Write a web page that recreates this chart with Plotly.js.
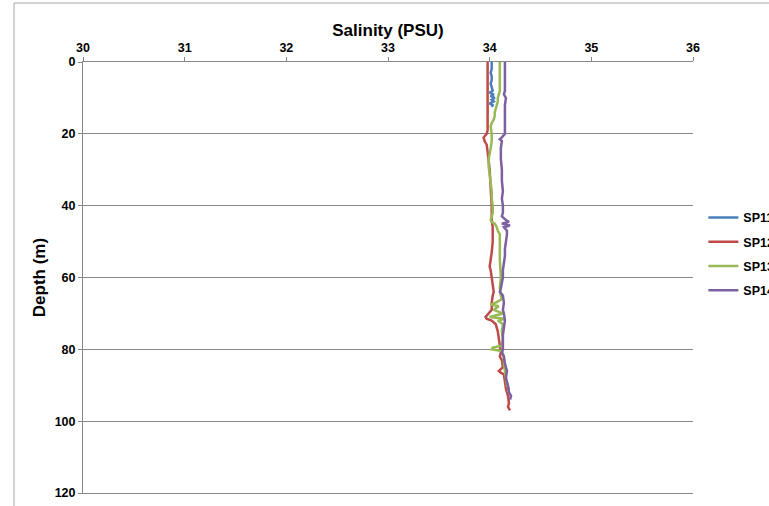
<!DOCTYPE html>
<html>
<head>
<meta charset="utf-8">
<script src="https://cdn.plot.ly/plotly-3.0.1.min.js"></script>
<style>
html,body{margin:0;padding:0;background:#fff;overflow:hidden;}
#chart{width:769px;height:506px;}
</style>
</head>
<body>
<div id="chart"></div>
<script>
// Series names
const seriesNames = ["SP11", "SP12", "SP13", "SP14"];

// SP11 (blue)
const sp11Depth = [0, 1, 2, 3, 4, 5, 6, 7, 8, 8.5, 9, 9.5, 10, 10.5, 11, 11.5, 12, 12.5];
const sp11Sal   = [34.02, 34.02, 34.02, 34.01, 34.02, 34.02, 34.01, 34.02, 34.03, 34.00, 34.04, 34.01, 34.05, 34.02, 34.04, 34.00, 34.03, 34.02];

// SP12 (red)
const sp12Depth = [0, 5, 10, 15, 19, 20, 21, 22, 23, 25, 27, 30, 35, 40, 44, 46, 48, 50, 53, 55, 57, 58, 60, 62, 64, 65, 67, 69, 70, 71, 71.5, 72, 73, 75, 77, 79, 81, 82, 83, 85, 86, 86.5, 87, 89, 91, 93, 95, 96, 97];
const sp12Sal   = [33.98, 33.98, 33.98, 33.98, 33.98, 33.97, 33.94, 33.95, 33.97, 33.98, 33.99, 34.00, 34.01, 34.02, 34.02, 34.03, 34.03, 34.03, 34.02, 34.01, 34.00, 34.01, 34.02, 34.03, 34.04, 34.03, 34.02, 34.02, 33.99, 33.96, 33.97, 34.02, 34.06, 34.08, 34.09, 34.10, 34.11, 34.10, 34.12, 34.13, 34.09, 34.11, 34.14, 34.15, 34.16, 34.18, 34.19, 34.18, 34.20];

// SP13 (green)
const sp13Depth = [0, 3, 7, 8, 9, 10, 11, 12, 13, 14, 15, 16, 17, 18, 20, 22, 24, 26, 27, 29, 31, 33, 36, 38, 40, 42, 44, 44.5, 45, 46, 47, 48, 50, 55, 60, 63, 65, 66, 67, 67.5, 68, 69, 70, 71, 71.5, 72, 73, 75, 77, 79, 79.5, 80, 80.5, 82, 84, 86, 88, 90, 91, 92];
const sp13Sal   = [34.10, 34.10, 34.10, 34.10, 34.09, 34.08, 34.08, 34.07, 34.06, 34.05, 34.05, 34.04, 34.02, 34.01, 34.02, 34.02, 34.01, 34.00, 33.99, 33.99, 34.00, 34.01, 34.02, 34.02, 34.03, 34.03, 34.01, 34.02, 34.05, 34.07, 34.08, 34.10, 34.10, 34.10, 34.11, 34.10, 34.11, 34.12, 34.06, 34.01, 34.09, 34.04, 34.13, 34.00, 34.15, 34.08, 34.13, 34.12, 34.13, 34.12, 34.03, 34.02, 34.12, 34.14, 34.14, 34.15, 34.16, 34.17, 34.19, 34.18];

// SP14 (purple)
const sp14Depth = [0, 4, 8, 9, 10, 12, 15, 18, 20, 21, 21.5, 22, 24, 27, 30, 33, 36, 38, 40, 42, 43, 44, 44.5, 45, 45.5, 46, 47, 48, 50, 52, 54, 56, 58, 60, 62, 63, 64, 65, 67, 69, 70, 72, 74, 76, 78, 80, 81, 82, 84, 86, 88, 90, 92, 93, 94];
const sp14Sal   = [34.15, 34.15, 34.15, 34.14, 34.16, 34.15, 34.15, 34.15, 34.15, 34.12, 34.10, 34.12, 34.11, 34.11, 34.12, 34.12, 34.13, 34.12, 34.13, 34.13, 34.12, 34.16, 34.19, 34.12, 34.20, 34.14, 34.17, 34.17, 34.16, 34.15, 34.15, 34.14, 34.13, 34.13, 34.12, 34.11, 34.10, 34.13, 34.14, 34.13, 34.14, 34.15, 34.14, 34.13, 34.13, 34.13, 34.12, 34.14, 34.15, 34.17, 34.16, 34.18, 34.19, 34.21, 34.20];

// Axis ticks
const xTicks = [30, 31, 32, 33, 34, 35, 36];
const yTicks = [0, 20, 40, 60, 80, 100, 120];

const colors = ["#4A7EBB", "#BE4B48", "#98B954", "#7D60A0"];
const depths = [sp11Depth, sp12Depth, sp13Depth, sp14Depth];
const sals = [sp11Sal, sp12Sal, sp13Sal, sp14Sal];

const traces = seriesNames.map((n, i) => ({
  type: "scatter",
  mode: "lines",
  name: n,
  x: sals[i],
  y: depths[i],
  legendgroup: n,
  line: {color: colors[i], width: 2.5}
}));

const fontFam = "Liberation Sans, Arial, sans-serif";
const gray = "#868686";

const layout = {
  width: 769,
  height: 506,
  margin: {l: 83, r: 76, t: 62, b: 13, pad: 0, autoexpand: false},
  paper_bgcolor: "#ffffff",
  plot_bgcolor: "#ffffff",
  font: {family: fontFam, color: "#000000"},
  showlegend: true,
  legend: {
    x: 1.017, y: 0.555, xanchor: "left", yanchor: "middle",
    font: {family: fontFam, size: 12.5, weight: "bold", color: "#000"},
    traceorder: "grouped",
    tracegroupgap: 5,
    bgcolor: "rgba(0,0,0,0)"
  },
  xaxis: {
    side: "top",
    range: [30, 36],
    tickvals: xTicks,
    ticktext: xTicks.map(String),
    showgrid: false,
    zeroline: false,
    showline: true,
    mirror: true,
    linecolor: gray,
    linewidth: 1,
    ticks: "outside",
    ticklen: 4,
    tickcolor: gray,
    automargin: false,
    tickfont: {family: fontFam, size: 12.5, weight: "bold", color: "#000"},
    title: {text: "Salinity (PSU)", font: {family: fontFam, size: 17, weight: "bold", color: "#000"}, standoff: 0}
  },
  yaxis: {
    range: [120, 0],
    tickvals: yTicks,
    ticktext: yTicks.map(String),
    showgrid: true,
    gridcolor: gray,
    gridwidth: 1,
    zeroline: false,
    showline: true,
    linecolor: gray,
    linewidth: 1,
    ticks: "outside",
    ticklen: 4,
    tickcolor: gray,
    automargin: false,
    tickfont: {family: fontFam, size: 12.5, weight: "bold", color: "#000"},
    title: {text: "Depth (m)", font: {family: fontFam, size: 17, weight: "bold", color: "#000"}, standoff: 4}
  },
  shapes: [{
    type: "rect", xref: "paper", yref: "paper",
    x0: -0.1131, x1: 1.3, y0: -0.2, y1: 1.1369,
    line: {color: "#A6A6A6", width: 1},
    fillcolor: "rgba(0,0,0,0)",
    layer: "below"
  }]
};

Plotly.newPlot("chart", traces, layout, {displayModeBar: false, staticPlot: true});
</script>
</body>
</html>
